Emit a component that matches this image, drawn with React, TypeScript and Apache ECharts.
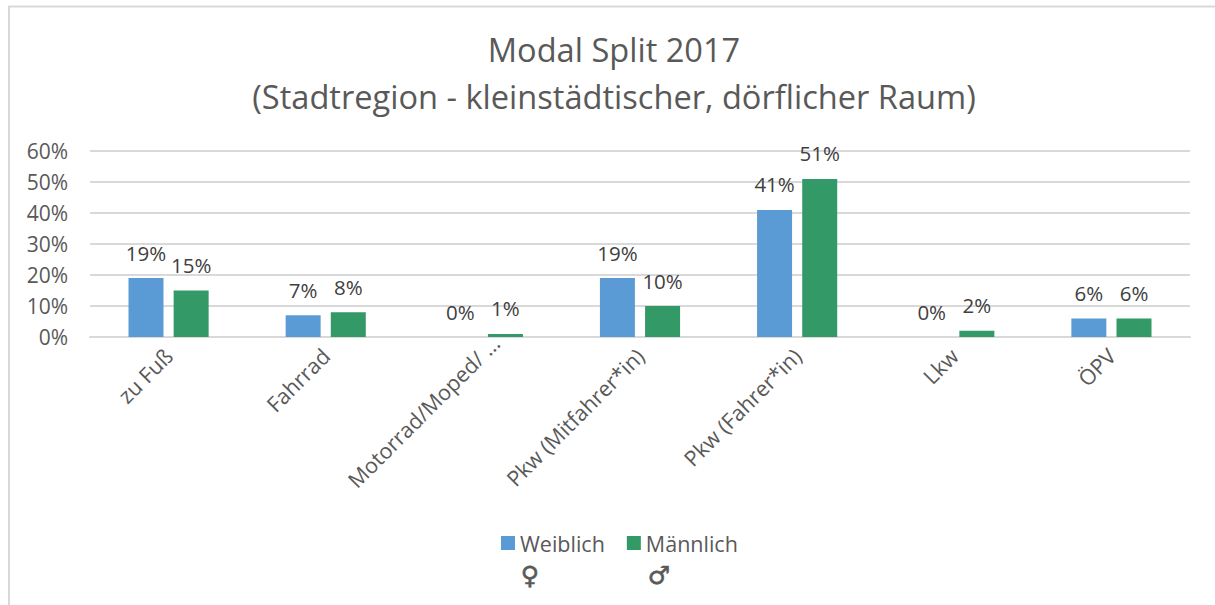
import React, { useEffect, useRef } from "react";
import * as echarts from "echarts";

const categories = ["zu Fuß", "Fahrrad", "Motorrad/Moped/ …", "Pkw (Mitfahrer*in)", "Pkw (Fahrer*in)", "Lkw", "ÖPV"];
const female = [19, 7, 0, 19, 41, 0, 6];
const male = [15, 8, 1, 10, 51, 2, 6];
const titleLines = "Modal Split 2017\n(Stadtregion - kleinstädtischer, dörflicher Raum)";
const FONT = '"Open Sans", "Noto Sans", sans-serif';

export default function App() {
  const ref = useRef<HTMLDivElement>(null);
  useEffect(() => {
    document.body.style.margin = "0";
    const chart = echarts.init(ref.current!, null, { renderer: "svg" });
    const label = {
      show: true,
      position: "top" as const,
      distance: 15,
      formatter: "{c}%",
      color: "#404040",
      fontSize: 20.5,
      fontFamily: FONT,
    };
    chart.setOption({
      animation: false,
      backgroundColor: "#fff",
      title: {
        text: titleLines,
        left: 609,
        top: 21,
        textAlign: "center",
        textStyle: { color: "#595959", fontSize: 32.6, fontWeight: "normal", fontFamily: FONT, lineHeight: 47 },
      },
      grid: { left: 90, right: 25, top: 151, height: 186 },
      xAxis: {
        type: "category",
        data: categories.map((c, i) => (i === 2 ? { value: c, textStyle: { padding: [0, -18, 0, 0] } } : c)),
        axisTick: { show: false },
        axisLine: { lineStyle: { color: "#d9d9d9", width: 2 } },
        axisLabel: { rotate: 45, interval: 0, margin: 15, color: "#595959", fontSize: 21.5, fontFamily: FONT },
      },
      yAxis: {
        type: "value",
        min: 0,
        max: 60,
        interval: 10,
        axisLine: { show: false },
        axisTick: { show: false },
        splitLine: { lineStyle: { color: "#d9d9d9", width: 2 } },
        axisLabel: { formatter: "{value}%", margin: 22, color: "#595959", fontSize: 21, fontFamily: FONT },
      },
      legend: {
        left: 496,
        top: 527,
        itemWidth: 14,
        itemHeight: 14,
        itemGap: 22,
        icon: "rect",
        data: ["Weiblich", "Männlich"],
        textStyle: { color: "#595959", fontSize: 21.5, fontFamily: FONT },
      },
      series: [
        { name: "Weiblich", type: "bar", data: female, barWidth: 35, barGap: "29%", itemStyle: { color: "#5b9bd5" }, label },
        { name: "Männlich", type: "bar", data: male, barWidth: 35, itemStyle: { color: "#339966" }, label },
      ],
      graphic: [
        { type: "polyline", shape: { points: [[9, 605], [9, 6.5], [1215, 6.5]] }, style: { stroke: "#d9d9d9", lineWidth: 2, fill: "none" } },
        { type: "text", x: 530, y: 575, style: { text: "♀", fill: "#595959", stroke: "#595959", lineWidth: 0.6, fontSize: 25, fontFamily: "DejaVu Sans", align: "center", verticalAlign: "middle" } },
        { type: "text", x: 659, y: 575, style: { text: "♂", fill: "#595959", stroke: "#595959", lineWidth: 0.6, fontSize: 25, fontFamily: "DejaVu Sans", align: "center", verticalAlign: "middle" } },
      ],
    });
    return () => chart.dispose();
  }, []);
  return <div ref={ref} style={{ width: 1215, height: 605 }} />;
}
